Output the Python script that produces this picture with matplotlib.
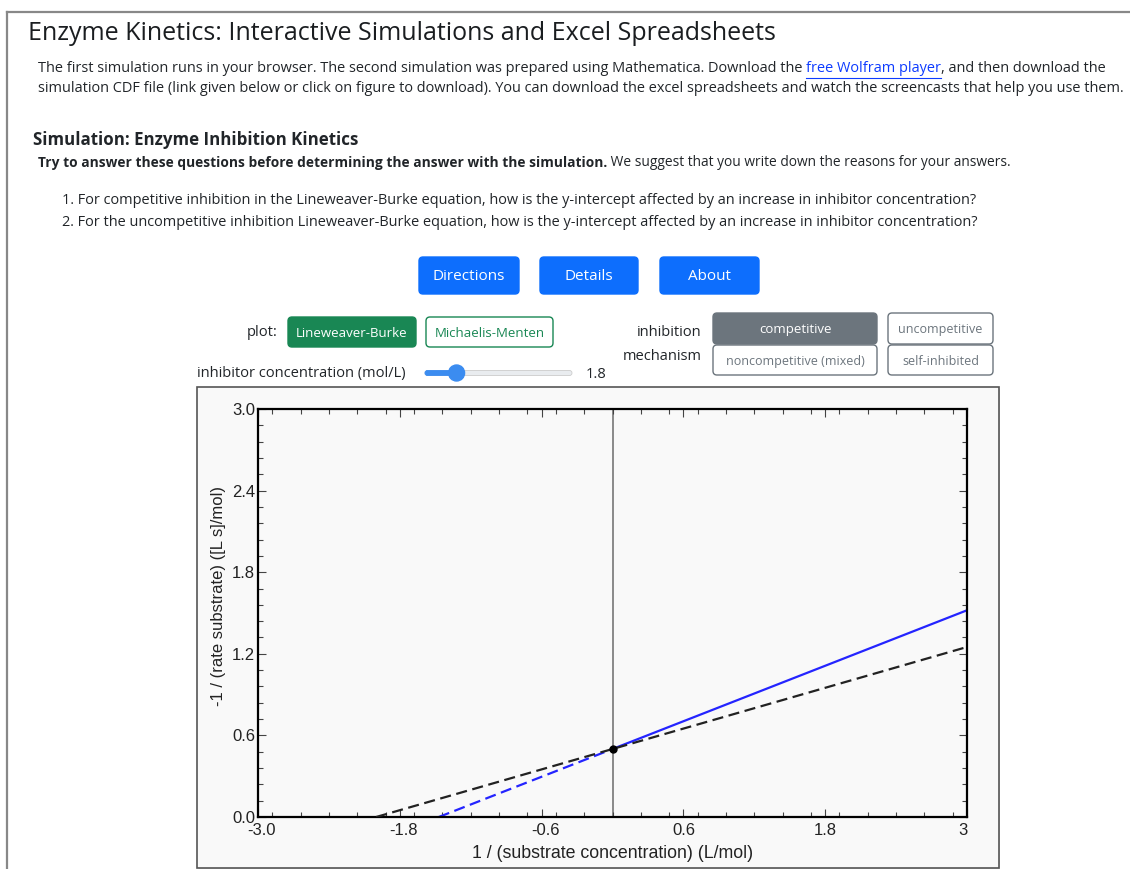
import matplotlib
matplotlib.use("Agg")
import matplotlib.pyplot as plt
import matplotlib.transforms as mtransforms
from matplotlib.patches import FancyBboxPatch, Rectangle, Circle
from matplotlib.ticker import MultipleLocator

# lines
black_x = [-2.0, 3.0]
black_y = [0.0, 1.25]
blue_dash_x = [-1.47, 0.0]
blue_dash_y = [0.0, 0.5]
blue_x = [0.0, 3.0]
blue_y = [0.5, 1.52]
point_x = [0.0]
point_y = [0.5]

x_ticks = [-3.0, -1.8, -0.6, 0.6, 1.8, 3.0]
x_tick_labels = ["-3.0", "-1.8", "-0.6", "0.6", "1.8", "3"]
y_ticks = [0.0, 0.6, 1.2, 1.8, 2.4, 3.0]
y_tick_labels = ["0.0", "0.6", "1.2", "1.8", "2.4", "3.0"]

inhibitor_conc = 1.8
slider_max = 10.0

top_buttons = ["Directions", "Details", "About"]
plot_buttons = ["Lineweaver-Burke", "Michaelis-Menten"]
mech_buttons = ["competitive", "uncompetitive", "noncompetitive (mixed)", "self-inhibited"]

W, H = 1130, 869
UI = "Open Sans"
TXT = "#212529"
BLUE = "#0d6efd"
GREEN = "#198754"
GREY = "#6c757d"

fig = plt.figure(figsize=(W / 100, H / 100), dpi=100)
page = fig.add_axes([0, 0, 1, 1])
page.set_xlim(0, W)
page.set_ylim(H, 0)
page.axis("off")
renderer = fig.canvas.get_renderer()


def run(x, y, parts, size):
    # draw pieces of text one after another on the same line
    spans = []
    for s, kw in parts:
        kw = {"color": TXT, **kw}
        t = page.text(x, y, s, fontsize=size, family=UI, va="center", ha="left", **kw)
        w = t.get_window_extent(renderer=renderer).width
        spans.append((x, x + w))
        x += w
    return spans


def button(x0, x1, y0, y1, label, fill, edge, tcolor, size):
    page.add_patch(FancyBboxPatch((x0, y0), x1 - x0, y1 - y0,
                                  boxstyle="round,pad=0,rounding_size=4",
                                  fc=fill, ec=edge, lw=1))
    page.text((x0 + x1) / 2, (y0 + y1) / 2 + 1.5, label, fontsize=size, family=UI,
              color=tcolor, ha="center", va="center")


# page frame
page.plot([7, W], [12, 12], color="#888", lw=1.6)
page.plot([7, 7], [12, H], color="#888", lw=1.6)

page.text(28, 33, "Enzyme Kinetics: Interactive Simulations and Excel Spreadsheets",
          fontsize=18, family=UI, color="#1a1d20", va="center")

spans = run(38, 69, [
    ("The first simulation runs in your browser. The second simulation was prepared using "
     "Mathematica. Download the ", {}),
    ("free Wolfram player", {"color": "#0d3bff"}),
    (", and then download the", {}),
], 10.45)
lx0, lx1 = spans[1]
page.plot([lx0, lx1], [77.5, 77.5], color="#0d3bff", lw=0.8)
run(38, 89, [("simulation CDF file (link given below or click on figure to download). You can download "
              "the excel spreadsheets and watch the screencasts that help you use them.", {})], 10.45)

page.text(33, 140, "Simulation: Enzyme Inhibition Kinetics", fontsize=12.2,
          family=UI, weight="bold", color=TXT, va="center")
run(38, 163, [("Try to answer these questions before determining the answer with the simulation.",
               {"weight": "bold"}),
              (" We suggest that you write down the reasons for your answers.", {})], 9.93)
run(62, 200, [("1. For competitive inhibition in the Lineweaver-Burke equation, how is the y-intercept "
               "affected by an increase in inhibitor concentration?", {})], 10.45)
run(62, 222, [("2. For the uncompetitive inhibition Lineweaver-Burke equation, how is the y-intercept "
               "affected by an increase in inhibitor concentration?", {})], 10.45)

# control buttons
for (x0, x1), lab in zip([(419, 519), (540, 638), (660, 759)], top_buttons):
    button(x0, x1, 257, 294, lab, BLUE, BLUE, "white", 11)

page.text(278, 332, "plot:", fontsize=10.5, family=UI, color=TXT, ha="right", va="center")
button(288, 416, 317, 347, plot_buttons[0], GREEN, GREEN, "white", 9.5)
button(426, 553, 317, 347, plot_buttons[1], "white", GREEN, GREEN, 9.5)

page.text(702, 333, "inhibition", fontsize=10.5, family=UI, color=TXT, ha="right", va="center")
page.text(702, 357, "mechanism", fontsize=10.5, family=UI, color=TXT, ha="right", va="center")
button(713, 877, 313, 344, mech_buttons[0], GREY, GREY, "white", 9.5)
button(888, 993, 313, 344, mech_buttons[1], "white", GREY, GREY, 9)
button(713, 877, 345, 375, mech_buttons[2], "white", GREY, GREY, 9)
button(888, 993, 345, 375, mech_buttons[3], "white", GREY, GREY, 9)

# slider
page.text(197, 373, "inhibitor concentration (mol/L)", fontsize=10.5, family=UI,
          color=TXT, va="center")
sx0, sx1 = 425, 572
thumb = sx0 + 8 + (sx1 - sx0 - 16) * inhibitor_conc / slider_max
page.add_patch(FancyBboxPatch((sx0, 370.5), sx1 - sx0, 5, boxstyle="round,pad=0,rounding_size=2.5",
                              fc="#e9ecef", ec="#ccc", lw=0.6))
page.add_patch(FancyBboxPatch((sx0, 370.5), thumb - sx0, 5, boxstyle="round,pad=0,rounding_size=2.5",
                              fc="#3b8cf0", ec="#3b8cf0", lw=0.6))
page.add_patch(Circle((thumb, 373), 8, fc="#3b8cf0", ec="#3b8cf0"))
page.text(586, 374, f"{inhibitor_conc:.1f}", fontsize=10.5, family=UI, color=TXT, va="center")

# plot panel
page.add_patch(Rectangle((199, 389), 801, 481, fc="#e6e6e6", ec="none"))
page.add_patch(Rectangle((197, 387), 802, 481, fc="#f9f9f9", ec="#555", lw=1.2))

ax = fig.add_axes([258 / W, 1 - 817 / H, 709 / W, 408 / H])
ax.set_facecolor("#f9f9f9")
ax.axvline(0, color="#777", lw=1.2, zorder=1)
ax.plot(blue_x, blue_y, color="#2424ff", lw=1.6, zorder=2)
ax.plot(blue_dash_x, blue_dash_y, color="#2424ff", lw=1.6, ls=(0, (5, 2.5)), zorder=2)
ax.plot(black_x, black_y, color="#222", lw=1.6, ls=(0, (5, 2.5)), zorder=3)
ax.plot(point_x, point_y, "o", color="black", ms=5, zorder=4)

ax.set_xlim(-3, 3)
ax.set_ylim(0, 3)
ax.set_xticks(x_ticks, x_tick_labels)
ax.set_yticks(y_ticks, y_tick_labels)
ax.xaxis.set_minor_locator(MultipleLocator(0.24))
ax.yaxis.set_minor_locator(MultipleLocator(0.12))
ax.tick_params(which="both", direction="in", top=True, right=True, color="#444", width=0.8)
ax.tick_params(which="major", length=6, labelsize=12, labelcolor="#222")
ax.tick_params(axis="x", which="major", pad=4.5)
ax.tick_params(axis="y", which="major", pad=2)
ax.tick_params(which="minor", length=3.5)
for lab in ax.get_xticklabels() + ax.get_yticklabels():
    lab.set_family("Liberation Sans")
# Mathematica-style placement: minus signs hang left, last label tucked in
for lab in ax.get_xticklabels():
    dx = 4 if lab.get_text().startswith("-") else (-4 if lab.get_text() == "3" else 0)
    lab.set_transform(lab.get_transform() + mtransforms.ScaledTranslation(dx / 100, 0, fig.dpi_scale_trans))
for sp in ax.spines.values():
    sp.set_linewidth(1.6)
    sp.set_color("black")

page.text(613, 853, "1 / (substrate concentration) (L/mol)", fontsize=12.8,
          family="Liberation Sans", color="#222", ha="center", va="center")
page.text(219, 596, "-1 / (rate substrate) ([L s]/mol)", fontsize=12, rotation=90,
          family="Liberation Sans", color="#222", ha="center", va="center")

fig.savefig("out.png", dpi=100)
